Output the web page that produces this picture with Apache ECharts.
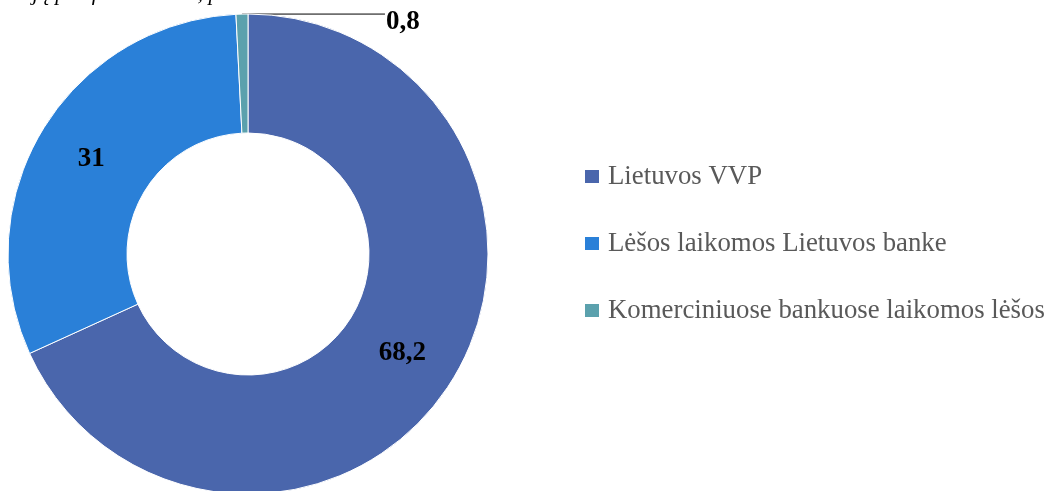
<!DOCTYPE html>
<html>
<head>
<meta charset="utf-8">
<script src="https://cdn.jsdelivr.net/npm/echarts@6/dist/echarts.min.js"></script>
<style>
  html, body { margin: 0; padding: 0; background: #fff; }
  #main { width: 1048px; height: 491px; }
</style>
</head>
<body>
<div id="main"></div>
<script>
// data
var categories = ['Lietuvos VVP', 'Lėšos laikomos Lietuvos banke', 'Komerciniuose bankuose laikomos lėšos'];
var shares = [68.2, 31, 0.8];
var colors = ['#4A66AC', '#2A80D8', '#5BA1AD'];
var titleText = 'Investicijų portfelio sudėtis, procentais';

var chartDom = document.getElementById('main');
var myChart = echarts.init(chartDom);

var pieData = categories.map(function (name, i) {
  return {
    name: name,
    value: shares[i],
    itemStyle: { color: colors[i] }
  };
});
// the small slice gets an outside label with a leader line
pieData[2].label = { position: 'outside' };
pieData[2].labelLine = { show: true, length: 1, length2: 140, lineStyle: { color: '#000', width: 1 } };

var option = {
  animation: false,
  graphic: [
    {
      type: 'text',
      left: -42,
      top: -17,
      style: {
        text: titleText,
        font: 'italic 22px "Liberation Serif"',
        fill: '#000'
      }
    }
  ],
  legend: {
    orient: 'vertical',
    left: 583,
    top: 163,
    padding: 0,
    itemWidth: 16,
    itemHeight: 15,
    itemGap: 40,
    icon: 'rect',
    textStyle: {
      fontFamily: 'Liberation Serif',
      fontSize: 26.8,
      lineHeight: 26,
      color: '#595959',
      padding: [0, 0, 0, 3]
    },
    data: categories
  },
  series: [
    {
      type: 'pie',
      center: [248, 254],
      radius: [121, 240],
      startAngle: 90,
      clockwise: true,
      avoidLabelOverlap: false,
      itemStyle: { borderColor: '#fff', borderWidth: 1 },
      label: {
        show: true,
        position: 'inside',
        formatter: function (p) { return String(p.value).replace('.', ','); },
        fontFamily: 'Liberation Serif',
        fontWeight: 'bold',
        fontSize: 27,
        color: '#000'
      },
      labelLine: { show: false },
      labelLayout: function (params) {
        if (params.dataIndex !== 2 || !params.labelLinePoints) return {};
        var s = params.labelLinePoints[0];
        return {
          x: s[0] + 144,
          y: s[1] + 8,
          align: 'left',
          verticalAlign: 'middle',
          labelLinePoints: [s, [s[0] + 1, s[1]], [s[0] + 143, s[1]]]
        };
      },
      data: pieData
    }
  ]
};
option && myChart.setOption(option);
</script>
</body>
</html>
